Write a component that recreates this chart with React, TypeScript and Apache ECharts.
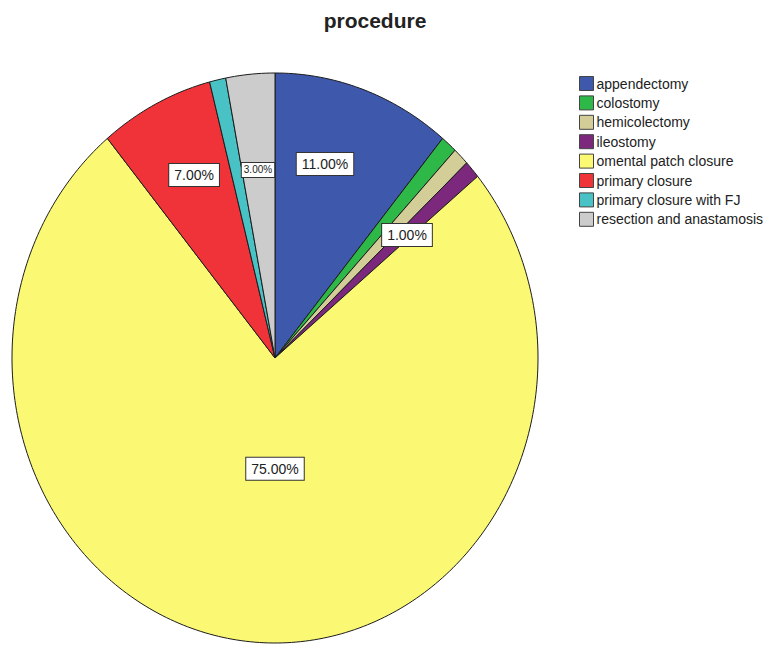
import React, { useEffect, useRef } from "react";
import * as echarts from "echarts";

// Procedure categories and their share of cases (%)
const categories = [
  "appendectomy",
  "colostomy",
  "hemicolectomy",
  "ileostomy",
  "omental patch closure",
  "primary closure",
  "primary closure with FJ",
  "resection and anastamosis",
];
const percents = [11, 1, 1, 1, 75, 7, 1, 3];
const colors = [
  "#3E58AC",
  "#2EB848",
  "#D3CE97",
  "#7C287D",
  "#FBF873",
  "#EF3338",
  "#48C2C5",
  "#CCCCCC",
];

// Where each value label sits: radius fraction and angular nudge (deg) from the slice bisector.
const labelPlacement: Record<string, { r: number; shift: number; size: number }> = {
  appendectomy: { r: 0.707, shift: -4.2, size: 14 },
  ileostomy: { r: 0.662, shift: 0.7, size: 14 },
  "omental patch closure": { r: 0.389, shift: -5.4, size: 14 },
  "primary closure": { r: 0.712, shift: 1.4, size: 14 },
  "resection and anastamosis": { r: 0.663, shift: -0.2, size: 10 },
};

// Elliptical pie geometry
const CX = 275;
const CY = 358;
const RX = 263;
const RY = 285;

const total = percents.reduce((a, b) => a + b, 0);
const starts: number[] = [];
percents.reduce((acc, v) => {
  starts.push(acc);
  return acc + v;
}, 0);

const pointAt = (deg: number, f: number) => {
  const t = (deg * Math.PI) / 180;
  return [CX + RX * f * Math.sin(t), CY - RY * f * Math.cos(t)];
};

export default function App() {
  const ref = useRef<HTMLDivElement>(null);

  useEffect(() => {
    if (!ref.current) return;
    const chart = echarts.init(ref.current, undefined, { renderer: "svg" });

    const series = categories.map((name, i) => ({
      type: "custom" as const,
      name,
      coordinateSystem: "none",
      color: colors[i],
      itemStyle: { color: colors[i] },
      data: [[percents[i]]],
      renderItem: (_params: any, api: any) => {
        const value = api.value(0) as number;
        const a0 = (starts[i] / total) * 360;
        const a1 = a0 + (value / total) * 360;
        const steps = Math.max(4, Math.ceil((a1 - a0) / 1));
        const pts: number[][] = [[CX, CY]];
        for (let s = 0; s <= steps; s++) {
          pts.push(pointAt(a0 + ((a1 - a0) * s) / steps, 1));
        }
        const children: any[] = [
          {
            type: "polygon",
            shape: { points: pts },
            style: { fill: colors[i], stroke: "#1c1c1c", lineWidth: 1, lineJoin: "round" },
            z2: 1,
          },
        ];
        const lp = labelPlacement[name];
        if (lp) {
          const [lx, ly] = pointAt((a0 + a1) / 2 + lp.shift, lp.r);
          children.push({
            type: "text",
            x: lx,
            y: ly,
            z2: 100,
            style: {
              text: ((value / total) * 100).toFixed(2) + "%",
              fontSize: lp.size,
              fontFamily: "Liberation Sans, Arial, sans-serif",
              fill: "#222",
              align: "center",
              verticalAlign: "middle",
              backgroundColor: "#ffffff",
              borderColor: "#333333",
              borderWidth: 1,
              padding: lp.size > 10 ? [4, 5, 4, 5] : [2, 2, 2, 2],
            },
          });
        }
        return { type: "group", children };
      },
    }));

    chart.setOption({
      animation: false,
      backgroundColor: "#ffffff",
      title: {
        text: "procedure",
        left: 370,
        top: 5,
        textAlign: "center",
        textStyle: {
          fontSize: 21,
          fontWeight: "bold",
          color: "#222",
          fontFamily: "Liberation Sans, Arial, sans-serif",
        },
      },
      legend: {
        orient: "vertical",
        left: 579,
        top: 76,
        padding: 0,
        itemWidth: 14,
        itemHeight: 14,
        itemGap: 4.4,
        icon: "rect",
        selectedMode: false,
        data: categories,
        itemStyle: { borderColor: "#444", borderWidth: 1 },
        textStyle: {
          fontSize: 14,
          color: "#222",
          fontFamily: "Liberation Sans, Arial, sans-serif",
          padding: [0, 0, 0, -2],
        },
      },
      series,
    });

    return () => chart.dispose();
  }, []);

  return (
    <div
      ref={ref}
      style={{ position: "fixed", left: 0, top: 0, width: 770, height: 650 }}
    />
  );
}
